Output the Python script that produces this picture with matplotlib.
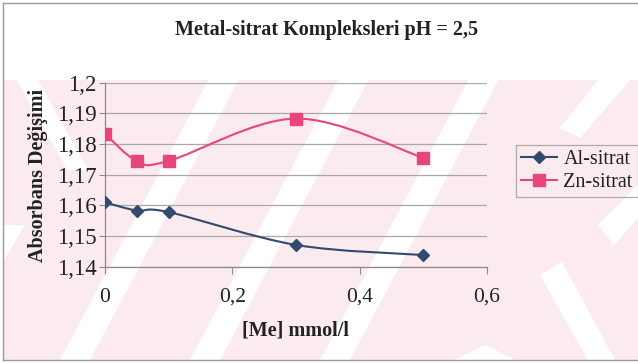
import matplotlib
matplotlib.use("Agg")
import matplotlib.pyplot as plt
from matplotlib.path import Path
from matplotlib.patches import PathPatch, Polygon
from matplotlib.lines import Line2D
from matplotlib.ticker import FuncFormatter
import numpy as np

# concentrations [Me] mmol/l and absorbance change readings
me_conc = [0.0, 0.05, 0.1, 0.3, 0.5]
al_sitrat = [1.161, 1.1583, 1.1578, 1.1471, 1.1438]
zn_sitrat = [1.1833, 1.1745, 1.1745, 1.1883, 1.1755]

x_ticks = [0.0, 0.2, 0.4, 0.6]
y_ticks = [1.14, 1.15, 1.16, 1.17, 1.18, 1.19, 1.2]

AL_COLOR = "#33496d"
ZN_COLOR = "#e8457a"
PINK = "#fcebee"
INK = "#222222"

plt.rcParams["font.family"] = "serif"
plt.rcParams["font.serif"] = ["Liberation Serif", "DejaVu Serif"]

W, H = 638, 363
fig = plt.figure(figsize=(W / 100, H / 100), dpi=100)
fig.patch.set_facecolor("white")


def px(points):
    # pixel coords (origin top-left) -> figure fraction
    return [(x / W, 1 - y / H) for x, y in points]


# faint background stamp: pink field with white diagonal bands
fig.add_artist(Polygon(px([(3, 80), (638, 80), (638, 360), (3, 360)]),
                       closed=True, fc=PINK, ec="none", zorder=0))
slope = 0.53
for x0 in [60, 190, 320]:
    band = [(x0, 360), (x0 + 30, 360),
            (x0 + 30 + slope * 280, 80), (x0 + slope * 280, 80)]
    fig.add_artist(Polygon(px(band), closed=True, fc="white", ec="none", zorder=0))
for pts in [[(17, 80), (38, 80), (88, 170), (67, 170)],
            [(3, 225), (25, 225), (3, 262)],
            [(455, 360), (485, 345), (515, 360)],
            [(540, 275), (562, 262), (615, 360), (588, 360)],
            [(598, 225), (638, 185), (638, 218), (614, 245)],
            [(560, 128), (598, 80), (630, 80), (580, 138)]]:
    fig.add_artist(Polygon(px(pts), closed=True, fc="white", ec="none", zorder=0))

# chart border
border = "#9a9a9a"
fig.add_artist(Line2D([3 / W, 3 / W], [1 - 3 / H, 1 - 360 / H], color=border, lw=1))
fig.add_artist(Line2D([3 / W, 1], [1 - 3 / H, 1 - 3 / H], color=border, lw=1))
fig.add_artist(Line2D([3 / W, 1], [1 - 360 / H, 1 - 360 / H], color=border, lw=1))

ax = fig.add_axes([105 / W, 1 - 266.7 / H, (487 - 105) / W, (266.7 - 82.7) / H])
ax.set_facecolor("none")
ax.set_xlim(0, 0.6)
ax.set_ylim(1.14, 1.2)
ax.set_xticks(x_ticks)
ax.set_yticks(y_ticks)


def comma(v, _):
    s = f"{v:.2f}".rstrip("0").rstrip(".")
    return s.replace(".", ",")


ax.xaxis.set_major_formatter(FuncFormatter(comma))
ax.yaxis.set_major_formatter(FuncFormatter(comma))
ax.grid(axis="y", color="#a8a8a8", lw=0.9)
ax.set_axisbelow(True)
for side in ["top", "right"]:
    ax.spines[side].set_visible(False)
for side in ["left", "bottom"]:
    ax.spines[side].set_color("#8a8a8a")
    ax.spines[side].set_linewidth(0.9)
ax.tick_params(axis="y", length=4, color="#8a8a8a", labelsize=16.5, pad=2,
               labelcolor=INK)
ax.tick_params(axis="x", length=5, color="#8a8a8a", labelsize=15.5, pad=10,
               labelcolor=INK)


def smooth_path(xs, ys):
    # Catmull-Rom style bezier segments through the data points
    pts = np.column_stack([xs, ys])
    n = len(pts)
    verts = [pts[0]]
    codes = [Path.MOVETO]
    for i in range(n - 1):
        p0 = pts[max(i - 1, 0)]
        p1 = pts[i]
        p2 = pts[i + 1]
        p3 = pts[min(i + 2, n - 1)]
        c1 = p1 + (p2 - p0) / 6
        c2 = p2 - (p3 - p1) / 6
        verts += [c1, c2, p2]
        codes += [Path.CURVE4] * 3
    return Path(verts, codes)


ax.add_patch(PathPatch(smooth_path(me_conc, al_sitrat), fc="none", ec=AL_COLOR, lw=1.5, zorder=3))
ax.add_patch(PathPatch(smooth_path(me_conc, zn_sitrat), fc="none", ec=ZN_COLOR, lw=1.5, zorder=3))
ax.plot(me_conc, al_sitrat, ls="none", marker="D", ms=6.5, color=AL_COLOR, zorder=4)
ax.plot(me_conc, zn_sitrat, ls="none", marker="s", ms=8, color=ZN_COLOR, zorder=4)

handles = [Line2D([], [], color=AL_COLOR, lw=1.5, marker="D", ms=6.5),
           Line2D([], [], color=ZN_COLOR, lw=1.5, marker="s", ms=8)]
leg = fig.legend(handles, ["Al-sitrat", "Zn-sitrat"], loc="upper left",
                 bbox_to_anchor=(516 / W, 1 - 145 / H), fontsize=14.5,
                 frameon=True, fancybox=False, handlelength=1.8,
                 handletextpad=0.3, borderpad=0.25, borderaxespad=0,
                 labelspacing=0.2)
leg.get_frame().set_edgecolor("#9a9a9a")
leg.get_frame().set_facecolor("none")
leg.get_frame().set_linewidth(0.9)
for t in leg.get_texts():
    t.set_color(INK)

fig.text(327 / W, 1 - 30 / H, "Metal-sitrat Kompleksleri pH = 2,5",
         ha="center", va="center", fontsize=14.5, fontweight="bold", color=INK)
fig.text(296 / W, 1 - 330 / H, "[Me] mmol/l", ha="center", va="center",
         fontsize=14.5, fontweight="bold", color=INK)
fig.text(38 / W, 1 - 175 / H, "Absorbans Değişimi", ha="center", va="center",
         rotation=90, fontsize=14.5, fontweight="bold", color=INK)

fig.savefig("out.png", dpi=100)
